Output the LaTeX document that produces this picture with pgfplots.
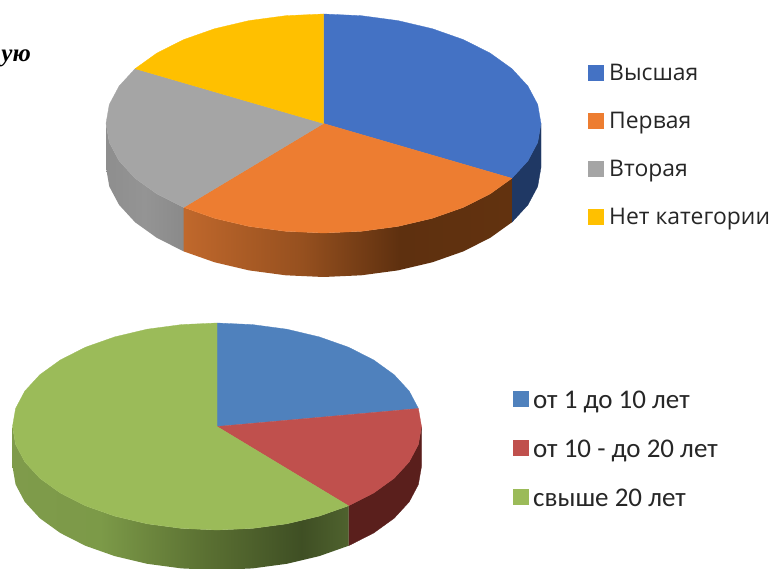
\documentclass[border=0pt]{standalone}
\usepackage{fontspec}
\usepackage{pgfplots}
\pgfplotsset{compat=1.18}
\newfontfamily\legA{Open Sans}
\newfontfamily\legB{Carlito}
\newfontfamily\txtS{Liberation Serif}
\definecolor{cA1}{HTML}{4472C4}\definecolor{cA2}{HTML}{ED7D31}\definecolor{cA3}{HTML}{A5A5A5}\definecolor{cA4}{HTML}{FFC000}
\definecolor{cB1}{HTML}{4F81BD}\definecolor{cB2}{HTML}{C0504D}\definecolor{cB3}{HTML}{9BBB59}
\definecolor{wA1}{HTML}{1F3864}\definecolor{wB2}{HTML}{5A1F1C}
\definecolor{oa}{HTML}{C0682C}\definecolor{ob}{HTML}{96501F}\definecolor{oc}{HTML}{5E300F}\definecolor{od}{HTML}{62320F}
\definecolor{ga}{HTML}{8E8E8E}\definecolor{gb}{HTML}{949494}\definecolor{gc}{HTML}{8A8A8A}
\definecolor{va}{HTML}{7F9B4B}\definecolor{vb}{HTML}{7C9A48}\definecolor{vc}{HTML}{5C7233}\definecolor{vd}{HTML}{3F4F24}\definecolor{ve}{HTML}{4F622E}
\pgfdeclarehorizontalshading{wallorange}{100bp}{color(0bp)=(oa);color(25bp)=(oa);color(43bp)=(ob);color(58bp)=(oc);color(75bp)=(od);color(100bp)=(od)}
\pgfdeclarehorizontalshading{wallgray}{100bp}{color(0bp)=(ga);color(25bp)=(ga);color(50bp)=(gb);color(75bp)=(gc);color(100bp)=(gc)}
\pgfdeclarehorizontalshading{wallgreen}{100bp}{color(0bp)=(va);color(25bp)=(va);color(38bp)=(vb);color(53bp)=(vc);color(68bp)=(vd);color(75bp)=(ve);color(100bp)=(ve)}
\begin{document}
\begin{tikzpicture}
\useasboundingbox (0,0) rectangle (771pt,569pt);
\begin{axis}[
  at={(0,0)},anchor=south west,
  scale only axis,width=771pt,height=569pt,
  xmin=0,xmax=771,ymin=0,ymax=569,y dir=reverse,
  hide axis,clip=true,
  every axis plot/.append style={line join=round},
]
% ---- upper pie: side walls
\addplot[fill=wA1,draw=wA1,line width=.3pt] coordinates {(541,123.5)(537.7,142.5)(527.9,160.9)(511.9,178.3)(511.9,222.3)(527.9,204.9)(537.7,186.5)(541,167.5)} --cycle;
\addplot[shading=wallorange,draw=none] coordinates {(511.9,178.3)(490.1,193.9)(463.3,207.4)(432.3,218.3)(397.9,226.4)(361.3,231.3)(323.5,233)(285.7,231.3)(249.1,226.4)(214.7,218.3)(183.7,207.4)(183.7,251.4)(214.7,262.3)(249.1,270.4)(285.7,275.3)(323.5,277)(361.3,275.3)(397.9,270.4)(432.3,262.3)(463.3,251.4)(490.1,237.9)(511.9,222.3)} --cycle;
\addplot[shading=wallgray,draw=none] coordinates {(183.7,207.4)(156.9,193.9)(135.1,178.3)(119.1,160.9)(109.3,142.5)(106,123.5)(106,167.5)(109.3,186.5)(119.1,204.9)(135.1,222.3)(156.9,237.9)(183.7,251.4)} --cycle;
% ---- upper pie: top
\addplot[fill=cA1,draw=cA1,line width=.3pt] coordinates {(323.5,123.5)(323.5,14)(361.3,15.7)(397.9,20.6)(432.3,28.7)(463.3,39.6)(490.1,53.1)(511.9,68.7)(527.9,86.1)(537.7,104.5)(541,123.5)(537.7,142.5)(527.9,160.9)(511.9,178.3)} --cycle;
\addplot[fill=cA2,draw=cA2,line width=.3pt] coordinates {(323.5,123.5)(511.9,178.3)(490.1,193.9)(463.3,207.4)(432.3,218.3)(397.9,226.4)(361.3,231.3)(323.5,233)(285.7,231.3)(249.1,226.4)(214.7,218.3)(183.7,207.4)} --cycle;
\addplot[fill=cA3,draw=cA3,line width=.3pt] coordinates {(323.5,123.5)(183.7,207.4)(156.9,193.9)(135.1,178.3)(119.1,160.9)(109.3,142.5)(106,123.5)(109.3,104.5)(119.1,86.1)(135.1,68.7)} --cycle;
\addplot[fill=cA4,draw=cA4,line width=.3pt] coordinates {(323.5,123.5)(135.1,68.7)(156.9,53.1)(183.7,39.6)(214.7,28.7)(249.1,20.6)(285.7,15.7)(323.5,14)} --cycle;
% ---- lower pie: side walls
\addplot[fill=wB2,draw=wB2,line width=.3pt] coordinates {(421.5,426.5)(418.4,444.5)(409.2,461.9)(394.1,478.3)(373.7,493)(348.5,505.8)(348.5,545.8)(373.7,533)(394.1,518.3)(409.2,501.9)(418.4,484.5)(421.5,466.5)} --cycle;
\addplot[shading=wallgreen,draw=none] coordinates {(348.5,505.8)(319.3,516.1)(286.9,523.8)(252.5,528.4)(217,530)(181.5,528.4)(147.1,523.8)(114.7,516.1)(85.5,505.8)(60.3,493)(39.9,478.3)(24.8,461.9)(15.6,444.5)(12.5,426.5)(12.5,466.5)(15.6,484.5)(24.8,501.9)(39.9,518.3)(60.3,533)(85.5,545.8)(114.7,556.1)(147.1,563.8)(181.5,568.4)(217,570)(252.5,568.4)(286.9,563.8)(319.3,556.1)(348.5,545.8)} --cycle;
% ---- lower pie: top
\addplot[fill=cB1,draw=cB1,line width=.3pt] coordinates {(217,426.5)(217,323)(252.5,324.6)(286.9,329.2)(319.3,336.9)(348.5,347.2)(373.7,360)(394.1,374.7)(409.2,391.1)(418.4,408.5)} --cycle;
\addplot[fill=cB2,draw=cB2,line width=.3pt] coordinates {(217,426.5)(418.4,408.5)(421.5,426.5)(418.4,444.5)(409.2,461.9)(394.1,478.3)(373.7,493)(348.5,505.8)} --cycle;
\addplot[fill=cB3,draw=cB3,line width=.3pt] coordinates {(217,426.5)(348.5,505.8)(319.3,516.1)(286.9,523.8)(252.5,528.4)(217,530)(181.5,528.4)(147.1,523.8)(114.7,516.1)(85.5,505.8)(60.3,493)(39.9,478.3)(24.8,461.9)(15.6,444.5)(12.5,426.5)(15.6,408.5)(24.8,391.1)(39.9,374.7)(60.3,360)(85.5,347.2)(114.7,336.9)(147.1,329.2)(181.5,324.6)(217,323)} --cycle;
% ---- legends
\addplot[only marks,color=cA1,mark=square*,mark size=7.5pt,mark options={fill=cA1,draw=cA1,line width=0pt}] coordinates {(595.5,73)};
\addplot[only marks,color=cA2,mark=square*,mark size=7.5pt,mark options={fill=cA2,draw=cA2,line width=0pt}] coordinates {(595.5,121)};
\addplot[only marks,color=cA3,mark=square*,mark size=7.5pt,mark options={fill=cA3,draw=cA3,line width=0pt}] coordinates {(595.5,169)};
\addplot[only marks,color=cA4,mark=square*,mark size=7.5pt,mark options={fill=cA4,draw=cA4,line width=0pt}] coordinates {(595.5,217)};
\addplot[only marks,color=cB1,mark=square*,mark size=7.5pt,mark options={fill=cB1,draw=cB1,line width=0pt}] coordinates {(520.5,399)};
\addplot[only marks,color=cB2,mark=square*,mark size=7.5pt,mark options={fill=cB2,draw=cB2,line width=0pt}] coordinates {(520.5,448)};
\addplot[only marks,color=cB3,mark=square*,mark size=7.5pt,mark options={fill=cB3,draw=cB3,line width=0pt}] coordinates {(520.5,497)};
\begin{scope}[every node/.style={anchor=base west,inner sep=0pt,text=black!85}]
\node at (axis cs:609,81) {\legA\fontsize{22.9}{27}\selectfont Высшая};
\node at (axis cs:609,129) {\legA\fontsize{22.9}{27}\selectfont Первая};
\node at (axis cs:609,177) {\legA\fontsize{22.9}{27}\selectfont Вторая};
\node at (axis cs:609,225) {\legA\fontsize{22.9}{27}\selectfont Нет категории};
\node at (axis cs:533,408) {\legB\fontsize{27}{32}\selectfont от 1 до 10 лет};
\node at (axis cs:533,457) {\legB\fontsize{27}{32}\selectfont от 10 - до 20 лет};
\node at (axis cs:533,506) {\legB\fontsize{27}{32}\selectfont свыше 20 лет};
\end{scope}
\node[anchor=base east,inner sep=0pt] at (axis cs:31,62) {\txtS\bfseries\itshape\fontsize{25}{29}\selectfont ую};
\end{axis}
\end{tikzpicture}
\end{document}
